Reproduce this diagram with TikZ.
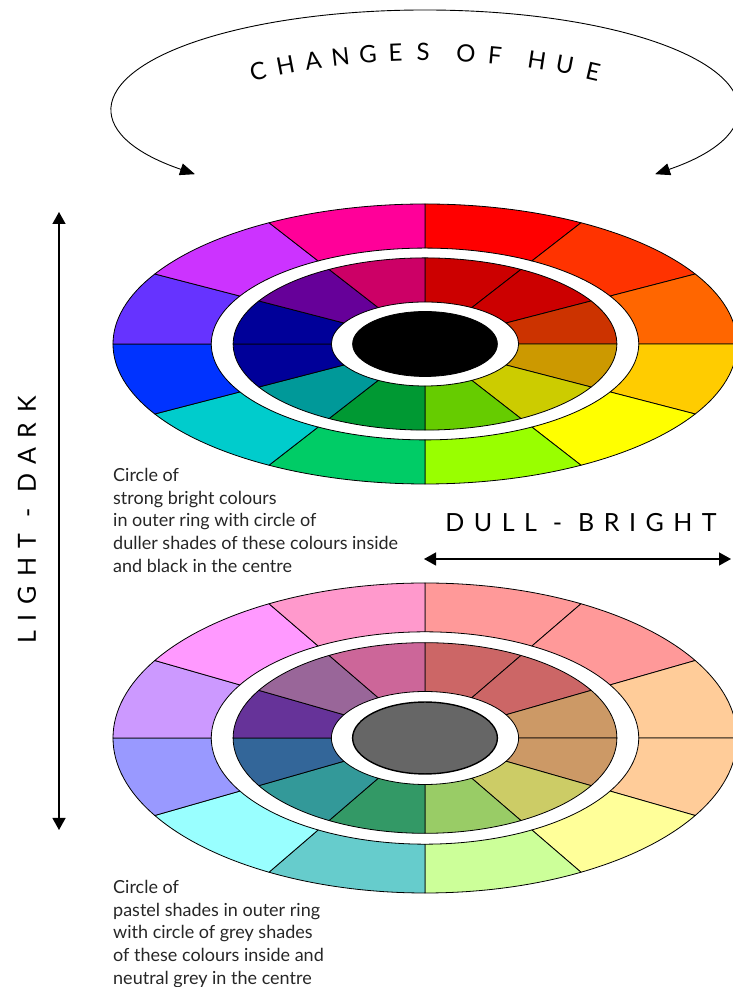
\documentclass[tikz,border=0pt]{standalone}
\usepackage{fontspec}
\setmainfont{Lato}
\newfontfamily\widefont[LetterSpace=38]{Lato}
\usepackage{tikz}
\usetikzlibrary{arrows.meta}

% one ring of twelve segments: outer radius, inner radius, colours (clockwise from top)
\newcommand{\colourring}[3]{%
  \foreach \c [count=\i] in {#3} {
    \definecolor{segfill}{HTML}{\c}
    \pgfmathsetmacro{\a}{120-30*\i}
    \filldraw[seg, fill=segfill] (\a:#1) arc[start angle=\a, end angle=\a-30, radius=#1]
      -- (\a-30:#2) arc[start angle=\a-30, end angle=\a, radius=#2] -- cycle;
  }}

\begin{document}
\begin{tikzpicture}[
  x=1pt, y=1pt,
  seg/.style={draw=black, line width=0.8pt, line join=round},
  arr/.style={{Triangle[length=12pt,width=13pt]}-{Triangle[length=12pt,width=13pt]}, line width=1.3pt},
  huearr/.style={{Triangle[length=15pt,width=12pt]}-{Triangle[length=15pt,width=12pt]}, line width=0.9pt},
  huetext/.style={inner sep=0pt, font=\fontsize{24}{28}\selectfont},
  axislabel/.style={inner sep=0pt, font=\widefont\fontsize{25}{30}\selectfont},
  note/.style={inner sep=0pt, anchor=north west, align=left, text=black!85,
               font=\fontsize{18}{22.7}\selectfont}]
\useasboundingbox (0,0) rectangle (732,987);

% bright wheel
\begin{scope}[shift={(425,643)}, x=312pt, y=140pt]
  \colourring{1}{0.685}{FF0000,FF3300,FF6600,FFCC00,FFFF00,99FF00,00CC66,00CCCC,0033FF,6633FF,CC33FF,FF0099}
  \colourring{0.615}{0.3}{CC0000,CC0000,CC3300,CC9900,CCCC00,66CC00,009933,009999,000099,000099,660099,CC0066}
  \filldraw[seg, fill=black] (0,0) circle[radius=0.232];
\end{scope}

% pastel wheel
\begin{scope}[shift={(425,249)}, x=312pt, y=155pt]
  \colourring{1}{0.685}{FF9999,FF9999,FFCC99,FFCC99,FFFF99,CCFF99,66CCCC,99FFFF,9999FF,CC99FF,FF99FF,FF99CC}
  \colourring{0.615}{0.3}{CC6666,CC6666,CC9966,CC9966,CCCC66,99CC66,339966,339999,336699,663399,996699,CC6699}
  \filldraw[seg, fill={black!60}, line width=1.4pt] (0,0) circle[radius=0.232];
\end{scope}

% hue arrow and its arched title
\coordinate (hueL) at (195,812.8);
\draw[huearr] (hueL) arc[start angle=222.5, end angle=-42.5, x radius=312, y radius=98];
\begin{scope}[shift={(425,192)}]
  \foreach \ch/\dx [count=\i] in {C/-167,H/-139.5,A/-112,N/-84.5,G/-57,E/-29.5,S/-2,O/41,F/70,H/112,U/140,E/168}
    \node[huetext, rotate={-asin(\dx/743)}] (hue\i) at ({90-asin(\dx/743)}:743) {\ch};
\end{scope}

% light - dark axis
\coordinate (light) at (59,775);
\coordinate (dark) at (59,157);
\draw[arr] (light) -- (dark);
\node[axislabel, rotate=90] (lightdark) at (27,467) {LIGHT - DARK};

% dull - bright axis
\coordinate (dull) at (424,428);
\coordinate (bright) at (731,428);
\draw[arr] (dull) -- (bright);
\node[axislabel] (dullbright) at (581,464.5) {DULL - BRIGHT};

\node[note] (brightnote) at (113,519) {Circle of\\strong bright colours\\in outer ring with circle of\\duller shades of these colours inside\\and black in the centre};
\node[note] (pastelnote) at (113,107) {Circle of\\pastel shades in outer ring\\with circle of grey shades\\of these colours inside and\\neutral grey in the centre};
\end{tikzpicture}
\end{document}
